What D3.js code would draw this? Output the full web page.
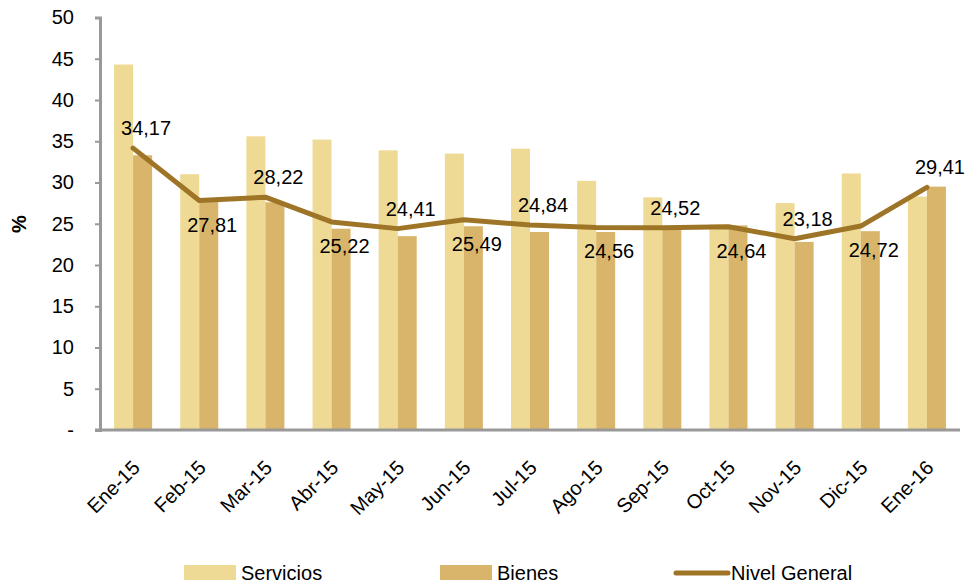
<!DOCTYPE html>
<html>
<head>
<meta charset="utf-8">
<script src="https://d3js.org/d3.v7.min.js"></script>
<style>
  body { margin: 0; background: #fff; }
  text { font-family: "Liberation Sans", Arial, sans-serif; fill: #000; }
</style>
</head>
<body>
<div id="chart"></div>
<script>
// categories and series
var months = ["Ene-15", "Feb-15", "Mar-15", "Abr-15", "May-15", "Jun-15", "Jul-15",
              "Ago-15", "Sep-15", "Oct-15", "Nov-15", "Dic-15", "Ene-16"];
var servicios = [44.3, 31.0, 35.6, 35.2, 33.9, 33.5, 34.1, 30.2, 28.2, 24.9, 27.5, 31.1, 28.3];
var bienes = [33.3, 27.7, 27.6, 24.4, 23.5, 24.7, 24.0, 24.0, 24.6, 24.8, 22.8, 24.1, 29.5];
var nivelGeneral = [34.17, 27.81, 28.22, 25.22, 24.41, 25.49, 24.84, 24.56, 24.52, 24.64, 23.18, 24.72, 29.41];
var yTicks = [0, 5, 10, 15, 20, 25, 30, 35, 40, 45, 50];

var width = 979, height = 586;
var colServ = "#eeda94", colBien = "#d9b56b", colLine = "#9e7527", colAxis = "#999999";

var svg = d3.select("#chart").append("svg")
    .attr("width", width)
    .attr("height", height);

var x = d3.scaleBand()
    .domain(months)
    .range([100, 960])
    .paddingInner(0.425)
    .paddingOuter(0.2125);

var y = d3.scaleLinear()
    .domain([0, 50])
    .range([430, 17.5]);

var bw = x.bandwidth() / 2;

// bars
svg.selectAll("rect.serv")
    .data(servicios)
    .enter()
    .append("rect")
    .attr("class", "serv")
    .attr("x", function(d, i) { return x(months[i]); })
    .attr("y", function(d) { return y(d); })
    .attr("width", bw)
    .attr("height", function(d) { return y(0) - y(d); })
    .attr("fill", colServ);

svg.selectAll("rect.bien")
    .data(bienes)
    .enter()
    .append("rect")
    .attr("class", "bien")
    .attr("x", function(d, i) { return x(months[i]) + bw; })
    .attr("y", function(d) { return y(d); })
    .attr("width", bw)
    .attr("height", function(d) { return y(0) - y(d); })
    .attr("fill", colBien);

// y axis
var yAxis = svg.append("g")
    .attr("transform", "translate(100,0)")
    .call(d3.axisLeft(y)
        .tickValues(yTicks)
        .tickSize(5)
        .tickPadding(6)
        .tickFormat(function(d) { return d === 0 ? "-" : d; }));
yAxis.select(".domain").attr("stroke", colAxis).attr("stroke-width", 3);
yAxis.selectAll(".tick line").attr("stroke", colAxis).attr("stroke-width", 2);
yAxis.selectAll(".tick text")
    .style("font-size", "20px")
    .attr("x", -26)
    .attr("fill", "#000");

// x axis
var xAxis = svg.append("g")
    .attr("transform", "translate(0,430)")
    .call(d3.axisBottom(x).tickSize(0).tickSizeOuter(0));
xAxis.select(".domain")
    .attr("d", "M95,0H960")
    .attr("stroke", colAxis)
    .attr("stroke-width", 3);
xAxis.selectAll(".tick text")
    .style("font-size", "20px")
    .attr("text-anchor", "end")
    .attr("fill", "#000")
    .attr("y", 0)
    .attr("dy", 0)
    .attr("transform", "translate(8,39) rotate(-45)");

// y label
svg.append("text")
    .attr("transform", "translate(26,224) rotate(-90)")
    .attr("text-anchor", "middle")
    .style("font-size", "20px")
    .style("font-weight", "bold")
    .text("%");

// line
var cx = function(i) { return x(months[i]) + x.bandwidth() / 2; };
var line = d3.line()
    .x(function(d, i) { return cx(i); })
    .y(function(d) { return y(d); });

svg.append("path")
    .datum(nivelGeneral)
    .attr("d", line)
    .attr("fill", "none")
    .attr("stroke", colLine)
    .attr("stroke-width", 5)
    .attr("stroke-linejoin", "round")
    .attr("stroke-linecap", "round");

// data labels, alternating above and below
svg.selectAll("text.lbl")
    .data(nivelGeneral)
    .enter()
    .append("text")
    .attr("class", "lbl")
    .attr("x", function(d, i) { return cx(i) + 13; })
    .attr("y", function(d, i) { return y(d) + (i % 2 === 0 ? -13 : 31); })
    .attr("text-anchor", "middle")
    .style("font-size", "20px")
    .text(function(d) { return d3.format(".2f")(d).replace(".", ","); });

// legend
var legend = svg.append("g").attr("transform", "translate(0,573)");
legend.append("rect").attr("x", 184).attr("y", -8).attr("width", 52).attr("height", 15).attr("fill", colServ);
legend.append("text").attr("x", 241).attr("y", 7).style("font-size", "20px").text("Servicios");
legend.append("rect").attr("x", 440).attr("y", -8).attr("width", 52).attr("height", 15).attr("fill", colBien);
legend.append("text").attr("x", 497).attr("y", 7).style("font-size", "20px").text("Bienes");
legend.append("line").attr("x1", 676).attr("x2", 728).attr("y1", 0).attr("y2", 0)
    .attr("stroke", colLine).attr("stroke-width", 5).attr("stroke-linecap", "round");
legend.append("text").attr("x", 731).attr("y", 7).style("font-size", "20px").text("Nivel General");
</script>
</body>
</html>
